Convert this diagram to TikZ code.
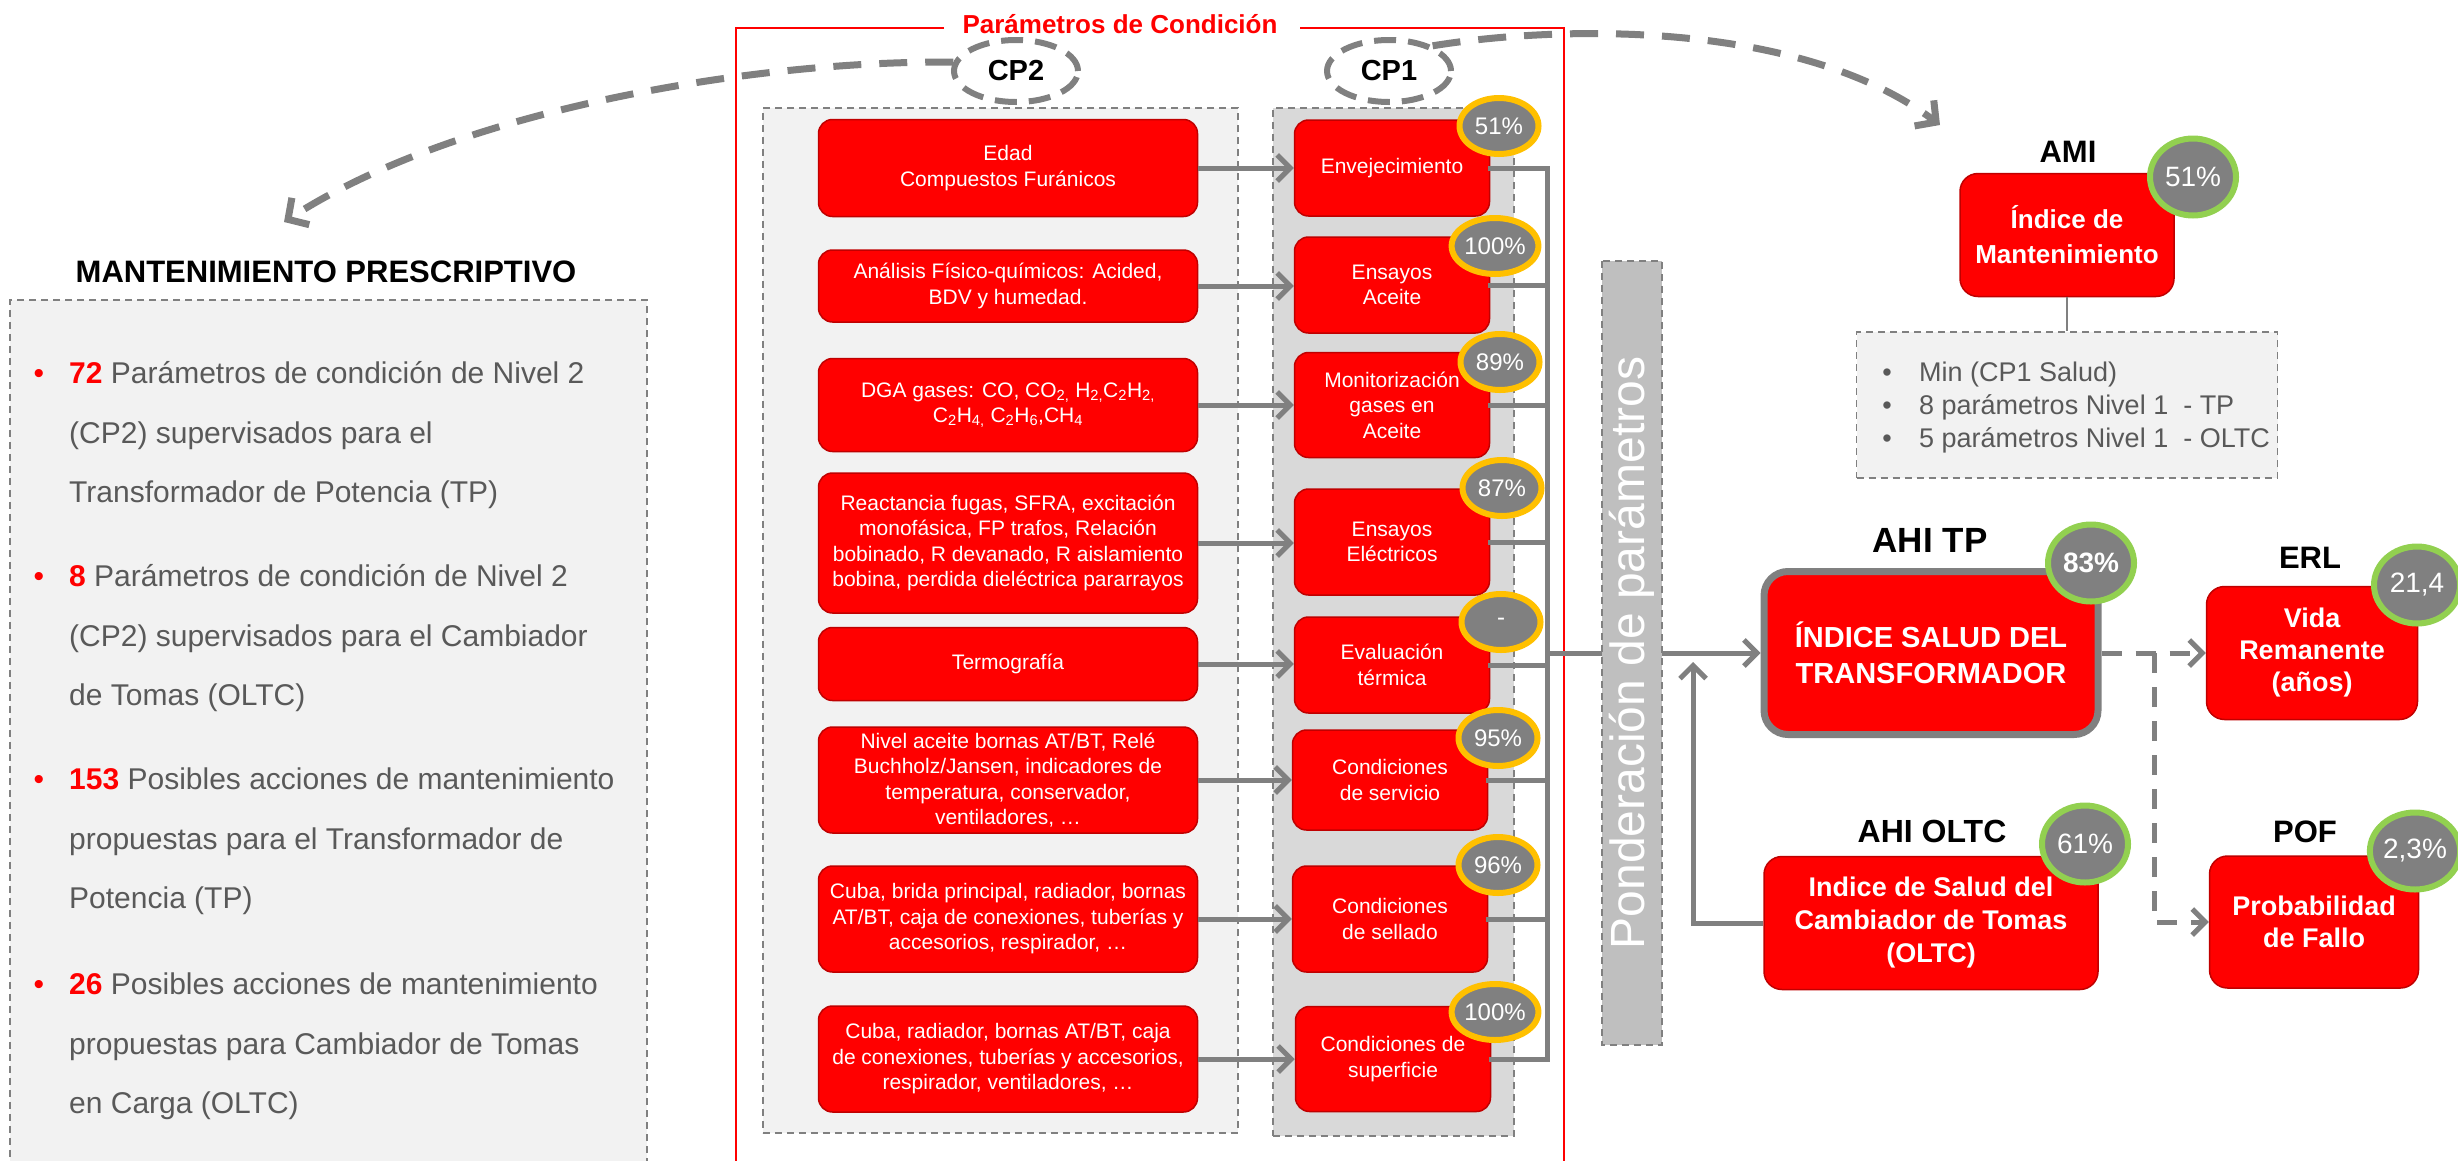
\documentclass[tikz,border=0pt]{standalone}
\usepackage{fontspec}
\setmainfont{Liberation Sans}
\usetikzlibrary{shapes.geometric,arrows.meta,calc}

\definecolor{pred}{HTML}{FF0000}
\definecolor{pdark}{HTML}{C00000}
\definecolor{pgray}{HTML}{808080}
\definecolor{pyellow}{HTML}{FFC000}
\definecolor{pgreen}{HTML}{92D050}
\definecolor{plight}{HTML}{F2F2F2}
\definecolor{pmid}{HTML}{D9D9D9}
\definecolor{pbar}{HTML}{BFBFBF}
\definecolor{ptext}{HTML}{595959}

\newcommand\fsz[2]{\fontsize{#1}{#2}\selectfont}
\newcommand\rnum[1]{{\color{pred}\bfseries #1}}

\begin{document}
\begin{tikzpicture}[x=1pt,y=-1pt,
  panel/.style={draw=pgray, line width=1.8pt, dash pattern=on 7pt off 5pt, inner sep=0pt},
  redbox/.style={rounded corners=14pt, fill=pred, draw=pdark, line width=1.5pt,
    text=white, align=center, inner sep=0pt},
  srcbox/.style={redbox, minimum width=379pt, font=\fsz{21}{25.5}},
  cpbox/.style={redbox, minimum width=195pt, font=\fsz{21}{25.5}},
  ybadge/.style={ellipse, fill=pgray, draw=pyellow, line width=6pt, minimum width=79pt,
    minimum height=56pt, inner sep=0pt, text=white, font=\fsz{24}{28}},
  gbadge/.style={ellipse, fill=pgray, draw=pgreen, line width=6pt, minimum width=86pt,
    minimum height=77pt, inner sep=0pt, text=white, font=\fsz{28}{32}},
  cpell/.style={ellipse, draw=pgray, line width=6pt, dash pattern=on 22pt off 12pt,
    minimum width=124pt, minimum height=62pt, inner sep=0pt, font=\fsz{29}{32}\bfseries},
  flow/.style={draw=pgray, line width=5pt, -{Straight Barb[length=13pt,width=26pt]}},
  dflow/.style={flow, dash pattern=on 20pt off 14pt},
  busline/.style={draw=pgray, line width=5pt, line cap=rect},
  arcline/.style={draw=pgray, line width=7pt, dash pattern=on 28pt off 18pt,
    -{Straight Barb[length=15pt,width=32pt]}},
  lbl/.style={anchor=base, inner sep=0pt, font=\fsz{31}{36}\bfseries},
  bdot/.style={anchor=base, inner sep=0pt, text=pred, font=\fsz{30}{36}},
  btext/.style={anchor=base west, inner sep=0pt, text=ptext, font=\fsz{30}{36}},
  sdot/.style={anchor=base, inner sep=0pt, text=ptext, font=\fsz{27}{33}},
  stext/.style={anchor=base west, inner sep=0pt, text=ptext, font=\fsz{27}{33}}]

\useasboundingbox (0,0) rectangle (2458,1160);
\clip (0,0) rectangle (2458,1160);

% ---------- background panels ----------
\node[panel, fill=plight, anchor=north west, minimum width=637pt, minimum height=900pt] (mpbox) at (9,299) {};
\node[panel, fill=plight, anchor=north west, minimum width=475pt, minimum height=1025pt] (cp2panel) at (762,107) {};
\node[panel, fill=pmid, anchor=north west, minimum width=241pt, minimum height=1028pt] (cp1panel) at (1272,107) {};

% ---------- condition-parameter frame ----------
\node[text=pred, font=\fsz{26}{30}\bfseries, anchor=base, inner sep=0pt] (ptitle) at (1120,33) {Parámetros de Condición};
\draw[pred, line width=2.5pt] (944,28) -- (736,28) -- (736,1200);
\draw[pred, line width=2.5pt] (1300,28) -- (1564,28) -- (1564,1200);

\node[cpell] (cp2) at (1016,71) {CP2};
\node[cpell] (cp1) at (1389,71) {CP1};

% ---------- prescriptive maintenance ----------
\node[lbl] (mptitle) at (326,282) {MANTENIMIENTO PRESCRIPTIVO};

\node[bdot] (d1) at (39,383) {•};
\node[btext] (t1a) at (69,383) {\rnum{72} Parámetros de condición de Nivel 2};
\node[btext] (t1b) at (69,443) {(CP2) supervisados para el};
\node[btext] (t1c) at (69,502) {Transformador de Potencia (TP)};

\node[bdot] (d2) at (39,586) {•};
\node[btext] (t2a) at (69,586) {\rnum{8} Parámetros de condición de Nivel 2};
\node[btext] (t2b) at (69,646) {(CP2) supervisados para el Cambiador};
\node[btext] (t2c) at (69,705) {de Tomas (OLTC)};

\node[bdot] (d3) at (39,789) {•};
\node[btext] (t3a) at (69,789) {\rnum{153} Posibles acciones de mantenimiento};
\node[btext] (t3b) at (69,849) {propuestas para el Transformador de};
\node[btext] (t3c) at (69,908) {Potencia (TP)};

\node[bdot] (d4) at (39,994) {•};
\node[btext] (t4a) at (69,994) {\rnum{26} Posibles acciones de mantenimiento};
\node[btext] (t4b) at (69,1054) {propuestas para Cambiador de Tomas};
\node[btext] (t4c) at (69,1113) {en Carga (OLTC)};

% ---------- dashed arcs between groups ----------
\coordinate (mptip) at (284,222);
\coordinate (amitip) at (1940,125);
\draw[arcline] (cp2.172) .. controls (760,60) and (460,108) .. (mptip);
\draw[arcline] (cp1.30) .. controls (1560,25) and (1800,20) .. (amitip);

% ---------- level 2 parameters ----------
\node[srcbox, minimum height=97pt] (s1) at (1008,168) {Edad\\Compuestos Furánicos};
\node[srcbox, minimum height=72pt] (s2) at (1008,286) {Análisis Físico-químicos: Acided,\\BDV y humedad.};
\node[srcbox, minimum height=93pt] (s3) at (1008,405) {DGA gases: CO, CO\textsubscript{2,} H\textsubscript{2,}C\textsubscript{2}H\textsubscript{2,}\\C\textsubscript{2}H\textsubscript{4,} C\textsubscript{2}H\textsubscript{6},CH\textsubscript{4}};
\node[srcbox, minimum height=140pt] (s4) at (1008,543) {Reactancia fugas, SFRA, excitación\\monofásica, FP trafos, Relación\\bobinado, R devanado, R aislamiento\\bobina, perdida dieléctrica pararrayos};
\node[srcbox, minimum height=73pt] (s5) at (1008,664) {Termografía};
\node[srcbox, minimum height=106pt] (s6) at (1008,780) {Nivel aceite bornas AT/BT, Relé\\Buchholz/Jansen, indicadores de\\temperatura, conservador,\\ventiladores, …};
\node[srcbox, minimum height=106pt] (s7) at (1008,919) {Cuba, brida principal, radiador, bornas\\AT/BT, caja de conexiones, tuberías y\\accesorios, respirador, …};
\node[srcbox, minimum height=106pt] (s8) at (1008,1059) {Cuba, radiador, bornas AT/BT, caja\\de conexiones, tuberías y accesorios,\\respirador, ventiladores, …};

% ---------- level 1 parameters ----------
\node[cpbox, minimum height=96pt] (c1) at (1392,168) {Envejecimiento};
\node[cpbox, minimum height=96pt] (c2) at (1392,285) {Ensayos\\Aceite};
\node[cpbox, minimum height=105pt] (c3) at (1392,405) {Monitorización\\gases en\\Aceite};
\node[cpbox, minimum height=106pt] (c4) at (1392,542) {Ensayos\\Eléctricos};
\node[cpbox, minimum height=96pt] (c5) at (1392,665) {Evaluación\\térmica};
\node[cpbox, minimum height=100pt] (c6) at (1390,780) {Condiciones\\de servicio};
\node[cpbox, minimum height=106pt] (c7) at (1390,919) {Condiciones\\de sellado};
\node[cpbox, minimum height=105pt] (c8) at (1393,1059) {Condiciones de\\superficie};

\foreach \i in {1,...,8} \draw[flow] (s\i.east) -- (s\i.east -| c\i.west);

% ---------- collecting bus ----------
\coordinate (busx) at (1547,0);
\foreach \i in {1,...,8} \draw[busline] (c\i.east) -- (c\i.east -| busx);
\draw[busline] (c1.east -| busx) -- (c8.east -| busx);

% ---------- health indices ----------
\node[redbox, draw=pgray, line width=7pt, rounded corners=24pt, minimum width=334pt,
  minimum height=163pt, font=\fsz{29}{36}\bfseries] (tp) at (1931,653) {ÍNDICE SALUD DEL\\TRANSFORMADOR};
\node[redbox, rounded corners=18pt, minimum width=334pt, minimum height=133pt,
  font=\fsz{27}{33}\bfseries] (oltc) at (1931,923) {Indice de Salud del\\Cambiador de Tomas\\(OLTC)};
\node[redbox, rounded corners=18pt, minimum width=211pt, minimum height=133pt,
  font=\fsz{27}{32}\bfseries] (erl) at (2312,653) {Vida\\Remanente\\(años)};
\node[redbox, rounded corners=18pt, minimum width=209pt, minimum height=132pt,
  font=\fsz{27}{32}\bfseries] (pof) at (2314,922) {Probabilidad\\de Fallo};
\node[redbox, rounded corners=18pt, minimum width=214pt, minimum height=123pt,
  font=\fsz{26}{35}\bfseries] (ami) at (2067,235) {Índice de\\Mantenimiento};

\node[lbl, font=\fsz{35}{40}\bfseries] (tplbl) at (1930,552) {AHI TP};
\node[lbl, font=\fsz{32}{36}\bfseries] (oltclbl) at (1932,842) {AHI OLTC};
\node[lbl] (erllbl) at (2310,568) {ERL};
\node[lbl] (poflbl) at (2305,842) {POF};
\node[lbl] (amilbl) at (2068,162) {AMI};

% maintenance index detail
\node[panel, fill=plight, minimum width=421pt, minimum height=146pt] (amilist) at (2067,405) {};
\draw[pgray, line width=2pt] (ami.south) -- (amilist.north);
\node[sdot] (m1) at (1887,381) {•};
\node[stext] (mt1) at (1919,381) {Min (CP1 Salud)};
\node[sdot] (m2) at (1887,414) {•};
\node[stext] (mt2) at (1919,414) {8 parámetros Nivel 1\ \ - TP};
\node[sdot] (m3) at (1887,447) {•};
\node[stext] (mt3) at (1919,447) {5 parámetros Nivel 1\ \ - OLTC};

% ---------- weighting and flows to the indices ----------
\coordinate (busout) at (1547,653);
\draw[flow] (busout) -- (busout -| tp.west);
\node[panel, fill=pbar, rotate=90, minimum width=784pt, minimum height=60pt,
  text=white, font=\fsz{48}{52}] (pond) at (1632,653) {Ponderación de parámetros};

\coordinate (uptip) at (1693,662);
\draw[flow] (oltc.west) -| (uptip);

\coordinate (jn) at (2154,653);
\draw[dflow] (tp.east) -- (erl.west);
\draw[dflow] (jn) |- (pof.west);

% ---------- level 1 scores ----------
\node[ybadge] (y1) at (1499,126) {51\%};
\node[ybadge] (y2) at (1495,246) {100\%};
\node[ybadge] (y3) at (1500,362) {89\%};
\node[ybadge] (y4) at (1502,488) {87\%};
\node[ybadge] (y5) at (1501,622) {-};
\node[ybadge] (y6) at (1498,738) {95\%};
\node[ybadge] (y7) at (1498,865) {96\%};
\node[ybadge] (y8) at (1495,1012) {100\%};

% ---------- index scores ----------
\node[gbadge] (amib) at (2193,177) {51\%};
\node[gbadge, font=\fsz{28}{32}\bfseries] (tpb) at (2091,563) {83\%};
\node[gbadge] (oltcb) at (2085,844) {61\%};
\node[gbadge] (erlb) at (2417,585) {21,4};
\node[gbadge] (pofb) at (2415,851) {2,3\%};

\end{tikzpicture}
\end{document}
